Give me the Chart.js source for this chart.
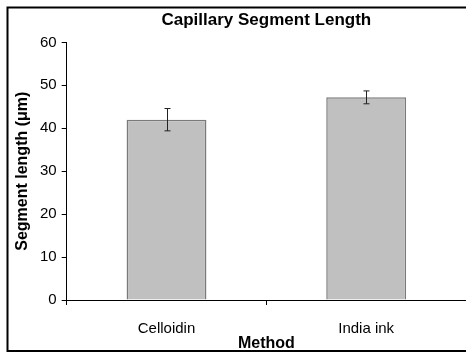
<!DOCTYPE html>
<html>
<head>
<meta charset="utf-8">
<script src="https://cdn.jsdelivr.net/npm/chart.js@4/dist/chart.umd.min.js"></script>
<style>
    html, body { margin: 0; padding: 0; background: #fff; }
    #wrap { width: 466px; height: 354px; position: relative; }
</style>
</head>
<body>
<div id="wrap"><canvas id="chart"></canvas></div>
<script>
// Capillary segment length by method
const categories = ['Celloidin', 'India ink'];
const means = [42.0, 47.2];
const errors = [2.6, 1.5];   // half-length of error bars

const FONT = "'Liberation Sans', Arial, sans-serif";

// error bars drawn through the library's scales
const errorBars = {
    id: 'errorBars',
    afterDatasetsDraw(chart) {
        const { ctx, scales: { x, y } } = chart;
        ctx.save();
        ctx.strokeStyle = '#222';
        ctx.lineWidth = 1;
        means.forEach((m, i) => {
            const cx = Math.round(x.getPixelForValue(i)) + 0.5;
            const top = y.getPixelForValue(m + errors[i]);
            const bot = y.getPixelForValue(m - errors[i]);
            ctx.beginPath();
            ctx.moveTo(cx, top); ctx.lineTo(cx, bot);
            ctx.moveTo(cx - 3, top); ctx.lineTo(cx + 3, top);
            ctx.moveTo(cx - 3, bot); ctx.lineTo(cx + 3, bot);
            ctx.stroke();
        });
        ctx.restore();
    }
};

// outer frame around the whole figure
const frame = {
    id: 'frame',
    afterDraw(chart) {
        const { ctx } = chart;
        ctx.save();
        ctx.strokeStyle = '#000';
        ctx.lineWidth = 2;
        ctx.strokeRect(7.5, 7.5, 470, 343.5);
        ctx.restore();
    }
};

new Chart(document.getElementById('chart'), {
    type: 'bar',
    data: {
        labels: categories,
        datasets: [{
            label: 'Segment length',
            data: means,
            backgroundColor: '#c0c0c0',
            borderColor: '#7a7a7a',
            borderWidth: 1.5,
            barPercentage: 0.4,
            categoryPercentage: 1.0
        }]
    },
    plugins: [errorBars, frame],
    options: {
        responsive: true,
        maintainAspectRatio: false,
        animation: false,
        layout: { padding: { left: 15, right: 0, top: 0, bottom: 2 } },
        plugins: {
            legend: { display: false },
            tooltip: { enabled: false },
            title: {
                display: true,
                fullSize: false,
                text: 'Capillary Segment Length',
                color: '#000',
                font: { family: FONT, size: 17, weight: 'bold', lineHeight: 1.2 },
                padding: { top: 10, bottom: 12 }
            }
        },
        scales: {
            x: {
                offset: true,
                border: { color: '#000', width: 1 },
                grid: { offset: true, drawOnChartArea: false, drawTicks: true, tickLength: 5, color: '#000' },
                ticks: {
                    color: '#000',
                    padding: 16,
                    font: { family: FONT, size: 15, lineHeight: 1 }
                },
                title: {
                    display: true,
                    text: 'Method',
                    color: '#000',
                    padding: { top: -16, bottom: 0 },
                    font: { family: FONT, size: 16, weight: 'bold', lineHeight: 1 }
                }
            },
            y: {
                min: 0,
                max: 60,
                border: { color: '#000', width: 1 },
                grid: { drawOnChartArea: false, drawTicks: true, tickLength: 5, color: '#000' },
                ticks: {
                    stepSize: 10,
                    color: '#000',
                    padding: 5,
                    font: { family: FONT, size: 15, lineHeight: 1 }
                },
                title: {
                    display: true,
                    text: 'Segment length (\u03bcm)',
                    color: '#000',
                    padding: { top: 0, bottom: 4 },
                    font: { family: FONT, size: 16, weight: 'bold', lineHeight: 1 }
                }
            }
        }
    }
});
</script>
</body>
</html>
